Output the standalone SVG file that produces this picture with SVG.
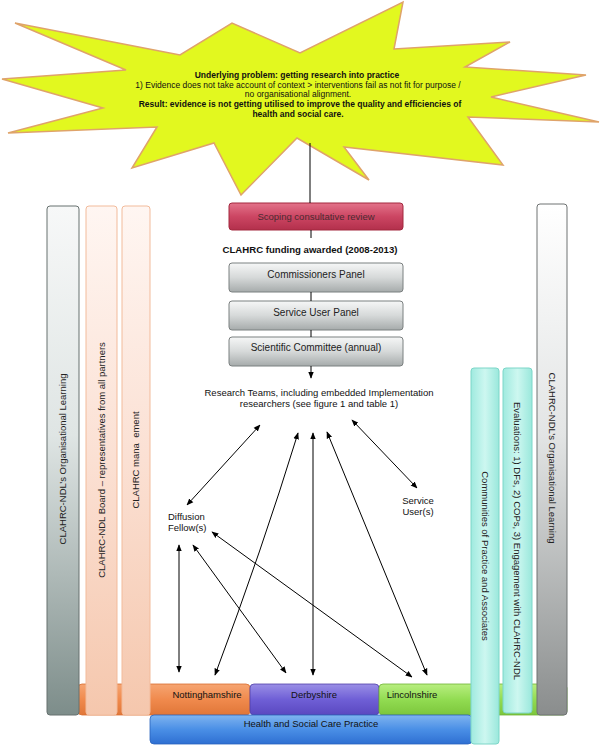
<svg xmlns="http://www.w3.org/2000/svg" width="600" height="745" viewBox="0 0 600 745">
<defs>
<linearGradient id="gRed" x1="0" y1="0" x2="0" y2="1"><stop offset="0" stop-color="#e3738a"/><stop offset="0.5" stop-color="#cc4663"/><stop offset="1" stop-color="#b3304c"/></linearGradient>
<linearGradient id="gPanel" x1="0" y1="0" x2="0" y2="1"><stop offset="0" stop-color="#f6f7f7"/><stop offset="0.5" stop-color="#d6d9d9"/><stop offset="1" stop-color="#a6abab"/></linearGradient>
<linearGradient id="gGrayL" x1="0" y1="0" x2="0" y2="1"><stop offset="0" stop-color="#f7f8f8"/><stop offset="0.45" stop-color="#dfe5e4"/><stop offset="1" stop-color="#7d8d8a"/></linearGradient>
<linearGradient id="gGrayR" x1="0" y1="0" x2="0" y2="1"><stop offset="0" stop-color="#ffffff"/><stop offset="0.45" stop-color="#e3e5e5"/><stop offset="1" stop-color="#8a8d8d"/></linearGradient>
<linearGradient id="gPeach" x1="0" y1="0" x2="0" y2="1"><stop offset="0" stop-color="#fff6f2"/><stop offset="0.5" stop-color="#fbe0d3"/><stop offset="1" stop-color="#f5c7ad"/></linearGradient>
<linearGradient id="gCyan" x1="0" y1="0" x2="1" y2="0"><stop offset="0" stop-color="#9feadf"/><stop offset="0.5" stop-color="#cdf7f0"/><stop offset="1" stop-color="#9ae8dc"/></linearGradient>
<linearGradient id="gOrange" x1="0" y1="0" x2="0" y2="1"><stop offset="0" stop-color="#f6a572"/><stop offset="0.5" stop-color="#f08a4d"/><stop offset="1" stop-color="#e07638"/></linearGradient>
<linearGradient id="gPurple" x1="0" y1="0" x2="0" y2="1"><stop offset="0" stop-color="#9a8fe6"/><stop offset="0.5" stop-color="#6f5fd6"/><stop offset="1" stop-color="#5a48c0"/></linearGradient>
<linearGradient id="gGreen" x1="0" y1="0" x2="0" y2="1"><stop offset="0" stop-color="#b8ee80"/><stop offset="0.5" stop-color="#92dc52"/><stop offset="1" stop-color="#7cc63c"/></linearGradient>
<linearGradient id="gBlue" x1="0" y1="0" x2="0" y2="1"><stop offset="0" stop-color="#7fb4f0"/><stop offset="0.5" stop-color="#4a8fe6"/><stop offset="1" stop-color="#2e6fd2"/></linearGradient>
<marker id="ah" viewBox="0 0 10 10" refX="9" refY="5" markerWidth="7" markerHeight="7" markerUnits="userSpaceOnUse" orient="auto-start-reverse"><path d="M0,1 L10,5 L0,9 z" fill="#000"/></marker>
</defs>
<style>
text{font-family:"Liberation Sans",Arial,sans-serif;fill:#111;}
.star{font-size:8.5px;text-anchor:middle;}
.b{font-weight:bold;}
.panel{stroke:#7b8080;stroke-width:1;fill:url(#gPanel);}
.pt{font-size:10px;text-anchor:middle;fill:#222;}
.vt{font-size:9.5px;text-anchor:middle;fill:#222;}
.lbl{font-size:9.5px;fill:#111;}
.conn line,.conn path{stroke:#000;stroke-width:1;fill:none;}
.arr{marker-start:url(#ah);marker-end:url(#ah);}
</style>

<g id="problem">
<path d="M15,23 L180,55 L232,23 L300,53 L403,2 L394,49 L510,42 L465,67 L586,75 L491,97 L599,122 L468,117 L503,165 L344,147 L369,180 L297,138 L241,195 L214,143 L132,168 L157,127 L8,133 L103,108 L2,79 L126,70 Z" fill="#e2f81f" stroke="#dfa36a" stroke-width="1.5" stroke-linejoin="miter"/>
<text class="star b" x="297" y="78">Underlying problem: getting research into practice</text>
<text class="star" x="298" y="87.5">1) Evidence does not take account of context &gt; interventions fail as not fit for purpose /</text>
<text class="star" x="298" y="97">no organisational alignment.</text>
<text class="star b" x="300" y="107">Result: evidence is not getting utilised to improve the quality and efficiencies of</text>
<text class="star b" x="298" y="116.5">health and social care.</text>
</g>

<g id="bands">
<rect id="nottinghamshire" x="78" y="684" width="172" height="31" rx="4" fill="url(#gOrange)" stroke="#d86d30" stroke-width="0.8"/>
<rect id="derbyshire" x="250" y="684" width="129" height="31" rx="4" fill="url(#gPurple)" stroke="#5040a8" stroke-width="0.8"/>
<rect id="lincolnshire" x="379" y="684" width="188" height="31" rx="4" fill="url(#gGreen)" stroke="#6fb235" stroke-width="0.8"/>
<rect id="hscp" x="150" y="715" width="322" height="29" rx="4" fill="url(#gBlue)" stroke="#2a62bd" stroke-width="0.8"/>
<text class="lbl" x="207" y="698" text-anchor="middle">Nottinghamshire</text>
<text class="lbl" x="314" y="698" text-anchor="middle">Derbyshire</text>
<text class="lbl" x="412" y="698" text-anchor="middle">Lincolnshire</text>
<text class="lbl" x="311" y="727" text-anchor="middle">Health and Social Care Practice</text>
</g>

<g id="leftLearning">
<rect x="47" y="206" width="32" height="509" rx="3" fill="url(#gGrayL)" stroke="#66716f" stroke-width="1"/>
<text class="vt" transform="translate(63,459) rotate(-90)" dy="0.35em">CLAHRC-NDL’s Organisational Learning</text>
</g>
<g id="board">
<rect x="86" y="206" width="31" height="509" rx="3" fill="url(#gPeach)" stroke="#f2bb9b" stroke-width="1"/>
<text class="vt" transform="translate(101.5,460) rotate(-90)" dy="0.35em">CLAHRC-NDL Board – representatives from all partners</text>
</g>
<g id="management">
<rect x="122" y="206" width="28" height="509" rx="3" fill="url(#gPeach)" stroke="#f2bb9b" stroke-width="1"/>
<text class="vt" transform="translate(136,460) rotate(-90)" dy="0.35em">CLAHRC mana&#160;&#160;ement</text>
</g>

<g id="communities">
<rect x="471" y="368" width="28" height="376" rx="3" fill="url(#gCyan)" stroke="#7cd6c8" stroke-width="1"/>
<text class="vt" transform="translate(485,556) rotate(90)" dy="0.35em">Communities of Practice and Associates</text>
</g>
<g id="evaluations">
<rect x="503" y="368" width="29" height="345" rx="3" fill="url(#gCyan)" stroke="#7cd6c8" stroke-width="1"/>
<text class="vt" transform="translate(517.5,541) rotate(90)" dy="0.35em">Evaluations: 1) DFs, 2) COPs, 3) Engagement with CLAHRC-NDL</text>
</g>
<g id="rightLearning">
<rect x="537" y="204" width="30" height="511" rx="3" fill="url(#gGrayR)" stroke="#6e7272" stroke-width="1"/>
<text class="vt" transform="translate(552,458) rotate(90)" dy="0.35em">CLAHRC-NDL’s Organisational Learning</text>
</g>

<g id="scoping">
<rect x="229" y="203" width="174" height="27" rx="3" fill="url(#gRed)" stroke="#a3283f" stroke-width="1"/>
<text x="316" y="220" font-size="9.5" text-anchor="middle" style="fill:#4a2a30">Scoping consultative review</text>
</g>
<g id="funding">
<text class="b" x="310" y="253" font-size="9.6" text-anchor="middle">CLAHRC funding awarded (2008-2013)</text>
</g>
<g id="commissioners">
<rect class="panel" x="229" y="263" width="174" height="29" rx="3"/>
<text class="pt" x="316" y="278">Commissioners Panel</text>
</g>
<g id="serviceUserPanel">
<rect class="panel" x="229" y="301" width="174" height="29" rx="3"/>
<text class="pt" x="316" y="316">Service User Panel</text>
</g>
<g id="scientific">
<rect class="panel" x="229" y="337" width="174" height="29" rx="3"/>
<text class="pt" x="316" y="351">Scientific Committee (annual)</text>
</g>

<g id="researchTeams">
<text class="lbl" x="319" y="396" text-anchor="middle">Research Teams, including embedded Implementation</text>
<text class="lbl" x="319" y="407" text-anchor="middle">researchers (see figure 1 and table 1)</text>
</g>
<g id="diffusion">
<text class="lbl" x="168" y="520">Diffusion</text>
<text class="lbl" x="168" y="531">Fellow(s)</text>
</g>
<g id="serviceUsers">
<text class="lbl" x="418" y="504" text-anchor="middle">Service</text>
<text class="lbl" x="418" y="515" text-anchor="middle">User(s)</text>
</g>

<g id="connectors" class="conn">
<line x1="310" y1="143" x2="310" y2="203"/>
<line x1="311" y1="230" x2="311" y2="238"/>
<line x1="311" y1="292" x2="311" y2="301"/>
<line x1="311" y1="330" x2="311" y2="337"/>
<line x1="311" y1="366" x2="311" y2="378" marker-end="url(#ah)"/>
<line class="arr" x1="260" y1="425" x2="187" y2="505"/>
<path class="arr" d="M298,433 Q262,550 215,675"/>
<line class="arr" x1="313" y1="433" x2="313" y2="675"/>
<line class="arr" x1="327" y1="432" x2="427" y2="675"/>
<line class="arr" x1="352" y1="420" x2="417" y2="488"/>
<line class="arr" x1="179" y1="545" x2="179" y2="672"/>
<line class="arr" x1="193" y1="545" x2="286" y2="673"/>
<line class="arr" x1="212" y1="532" x2="412" y2="677"/>
</g>
</svg>
